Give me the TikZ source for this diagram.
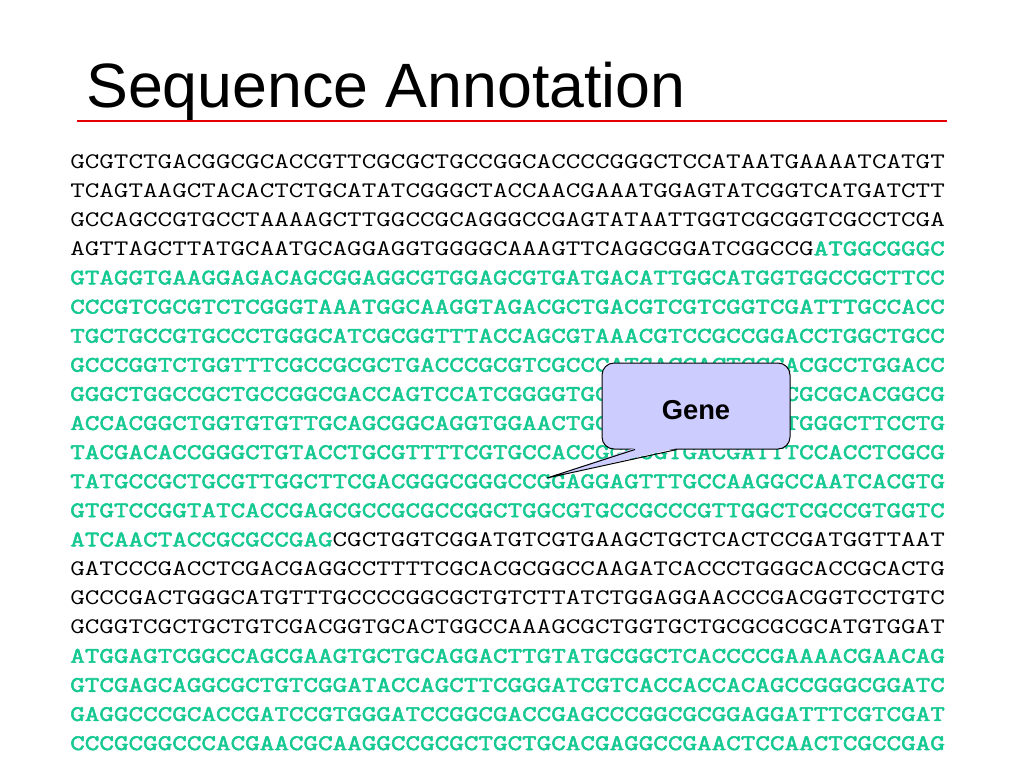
\documentclass[tikz,border=0pt]{standalone}
\usepackage{fontspec}
\setmainfont{Liberation Sans}
\newfontfamily\seqfont[FakeStretch=1.275,BoldFont={Latin Modern Mono},BoldFeatures={FakeBold=2.5}]{Latin Modern Mono}
\usetikzlibrary{calc}
\definecolor{genegreen}{RGB}{22,200,145}
\definecolor{bubblefill}{RGB}{204,204,255}
\definecolor{titlered}{RGB}{228,0,0}
\tikzset{
  seq/.style={anchor=base west,inner sep=0pt,font=\seqfont\fontsize{16.65}{20}\selectfont},
  gene/.style={seq,text=genegreen,font=\seqfont\bfseries\fontsize{16.65}{20}\selectfont},
}
\newcommand{\orf}[1]{\textcolor{genegreen}{\bfseries #1}}
\begin{document}
\begin{tikzpicture}[x=0.75pt,y=-0.75pt]
        \useasboundingbox (0,0) rectangle (1024,768);
        % title
        \node[anchor=base west,inner sep=0pt,font=\fontsize{47}{50}\selectfont] (title) at (86,107) {Sequence Annotation};
        \draw[titlered,line width=2pt] (77,121) -- (947,121);
        % sequence
        \path (70,168)
        +(0,0)     node[seq]  (r1)  {GCGTCTGACGGCGCACCGTTCGCGCTGCCGGCACCCCGGGCTCCATAATGAAAATCATGT}
        +(0,29.1)  node[seq]  (r2)  {TCAGTAAGCTACACTCTGCATATCGGGCTACCAACGAAATGGAGTATCGGTCATGATCTT}
        +(0,58.2)  node[seq]  (r3)  {GCCAGCCGTGCCTAAAAGCTTGGCCGCAGGGCCGAGTATAATTGGTCGCGGTCGCCTCGA}
        +(0,87.3)  node[seq]  (r4)  {AGTTAGCTTATGCAATGCAGGAGGTGGGGCAAAGTTCAGGCGGATCGGCCG\orf{ATGGCGGGC}}
        +(0,116.4) node[gene] (r5)  {GTAGGTGAAGGAGACAGCGGAGGCGTGGAGCGTGATGACATTGGCATGGTGGCCGCTTCC}
        +(0,145.5) node[gene] (r6)  {CCCGTCGCGTCTCGGGTAAATGGCAAGGTAGACGCTGACGTCGTCGGTCGATTTGCCACC}
        +(0,174.6) node[gene] (r7)  {TGCTGCCGTGCCCTGGGCATCGCGGTTTACCAGCGTAAACGTCCGCCGGACCTGGCTGCC}
        +(0,203.7) node[gene] (r8)  {GCCCGGTCTGGTTTCGCCGCGCTGACCCGCGTCGCCCATGACCACTCCCACGCCTGGACC}
        +(0,232.8) node[gene] (r9)  {GGGCTGGCCGCTGCCGGCGACCAGTCCATCGGGGTGCCGCCGACGGCGACGCGCACGGCG}
        +(0,261.9) node[gene] (r10) {ACCACGGCTGGTGTGTTGCAGCGGCAGGTGGAACTGCCGCGCCGCCGCCTGGGCTTCCTG}
        +(0,291.0) node[gene] (r11) {TACGACACCGGGCTGTACCTGCGTTTTCGTGCCACCGGCCGTGACGATTTCCACCTCGCG}
        +(0,320.1) node[gene] (r12) {TATGCCGCTGCGTTGGCTTCGACGGGCGGGCCGGAGGAGTTTGCCAAGGCCAATCACGTG}
        +(0,349.2) node[gene] (r13) {GTGTCCGGTATCACCGAGCGCCGCGCCGGCTGGCGTGCCGCCCGTTGGCTCGCCGTGGTC}
        +(0,378.3) node[seq]  (r14) {\orf{ATCAACTACCGCGCCGAG}CGCTGGTCGGATGTCGTGAAGCTGCTCACTCCGATGGTTAAT}
        +(0,407.4) node[seq]  (r15) {GATCCCGACCTCGACGAGGCCTTTTCGCACGCGGCCAAGATCACCCTGGGCACCGCACTG}
        +(0,436.5) node[seq]  (r16) {GCCCGACTGGGCATGTTTGCCCCGGCGCTGTCTTATCTGGAGGAACCCGACGGTCCTGTC}
        +(0,465.6) node[seq]  (r17) {GCGGTCGCTGCTGTCGACGGTGCACTGGCCAAAGCGCTGGTGCTGCGCGCGCATGTGGAT}
        +(0,494.7) node[gene] (r18) {ATGGAGTCGGCCAGCGAAGTGCTGCAGGACTTGTATGCGGCTCACCCCGAAAACGAACAG}
        +(0,523.8) node[gene] (r19) {GTCGAGCAGGCGCTGTCGGATACCAGCTTCGGGATCGTCACCACCACAGCCGGGCGGATC}
        +(0,552.9) node[gene] (r20) {GAGGCCCGCACCGATCCGTGGGATCCGGCGACCGAGCCCGGCGCGGAGGATTTCGTCGAT}
        +(0,582.0) node[gene] (r21) {CCCGCGGCCCACGAACGCAAGGCCGCGCTGCTGCACGAGGCCGAACTCCAACTCGCCGAG};
        % callout
        \node[draw=black,fill=bubblefill,rounded corners=9pt,line width=0.75pt,minimum width=141pt,minimum height=64.5pt,inner sep=0pt,text height=20.7pt,font=\bfseries\fontsize{20.5}{24}\selectfont] (bubble) at (696,406) {Gene};
        \coordinate (tip) at (547,478);
        \fill[bubblefill] ($(bubble.south)+(-61,-1.5)$) -- (tip) -- ($(bubble.south)+(-19,-1.5)$) -- cycle;
        \draw[line width=0.75pt] ($(bubble.south)+(-61,0)$) -- (tip) -- ($(bubble.south)+(-19,0)$);
    \end{tikzpicture}
\end{document}
